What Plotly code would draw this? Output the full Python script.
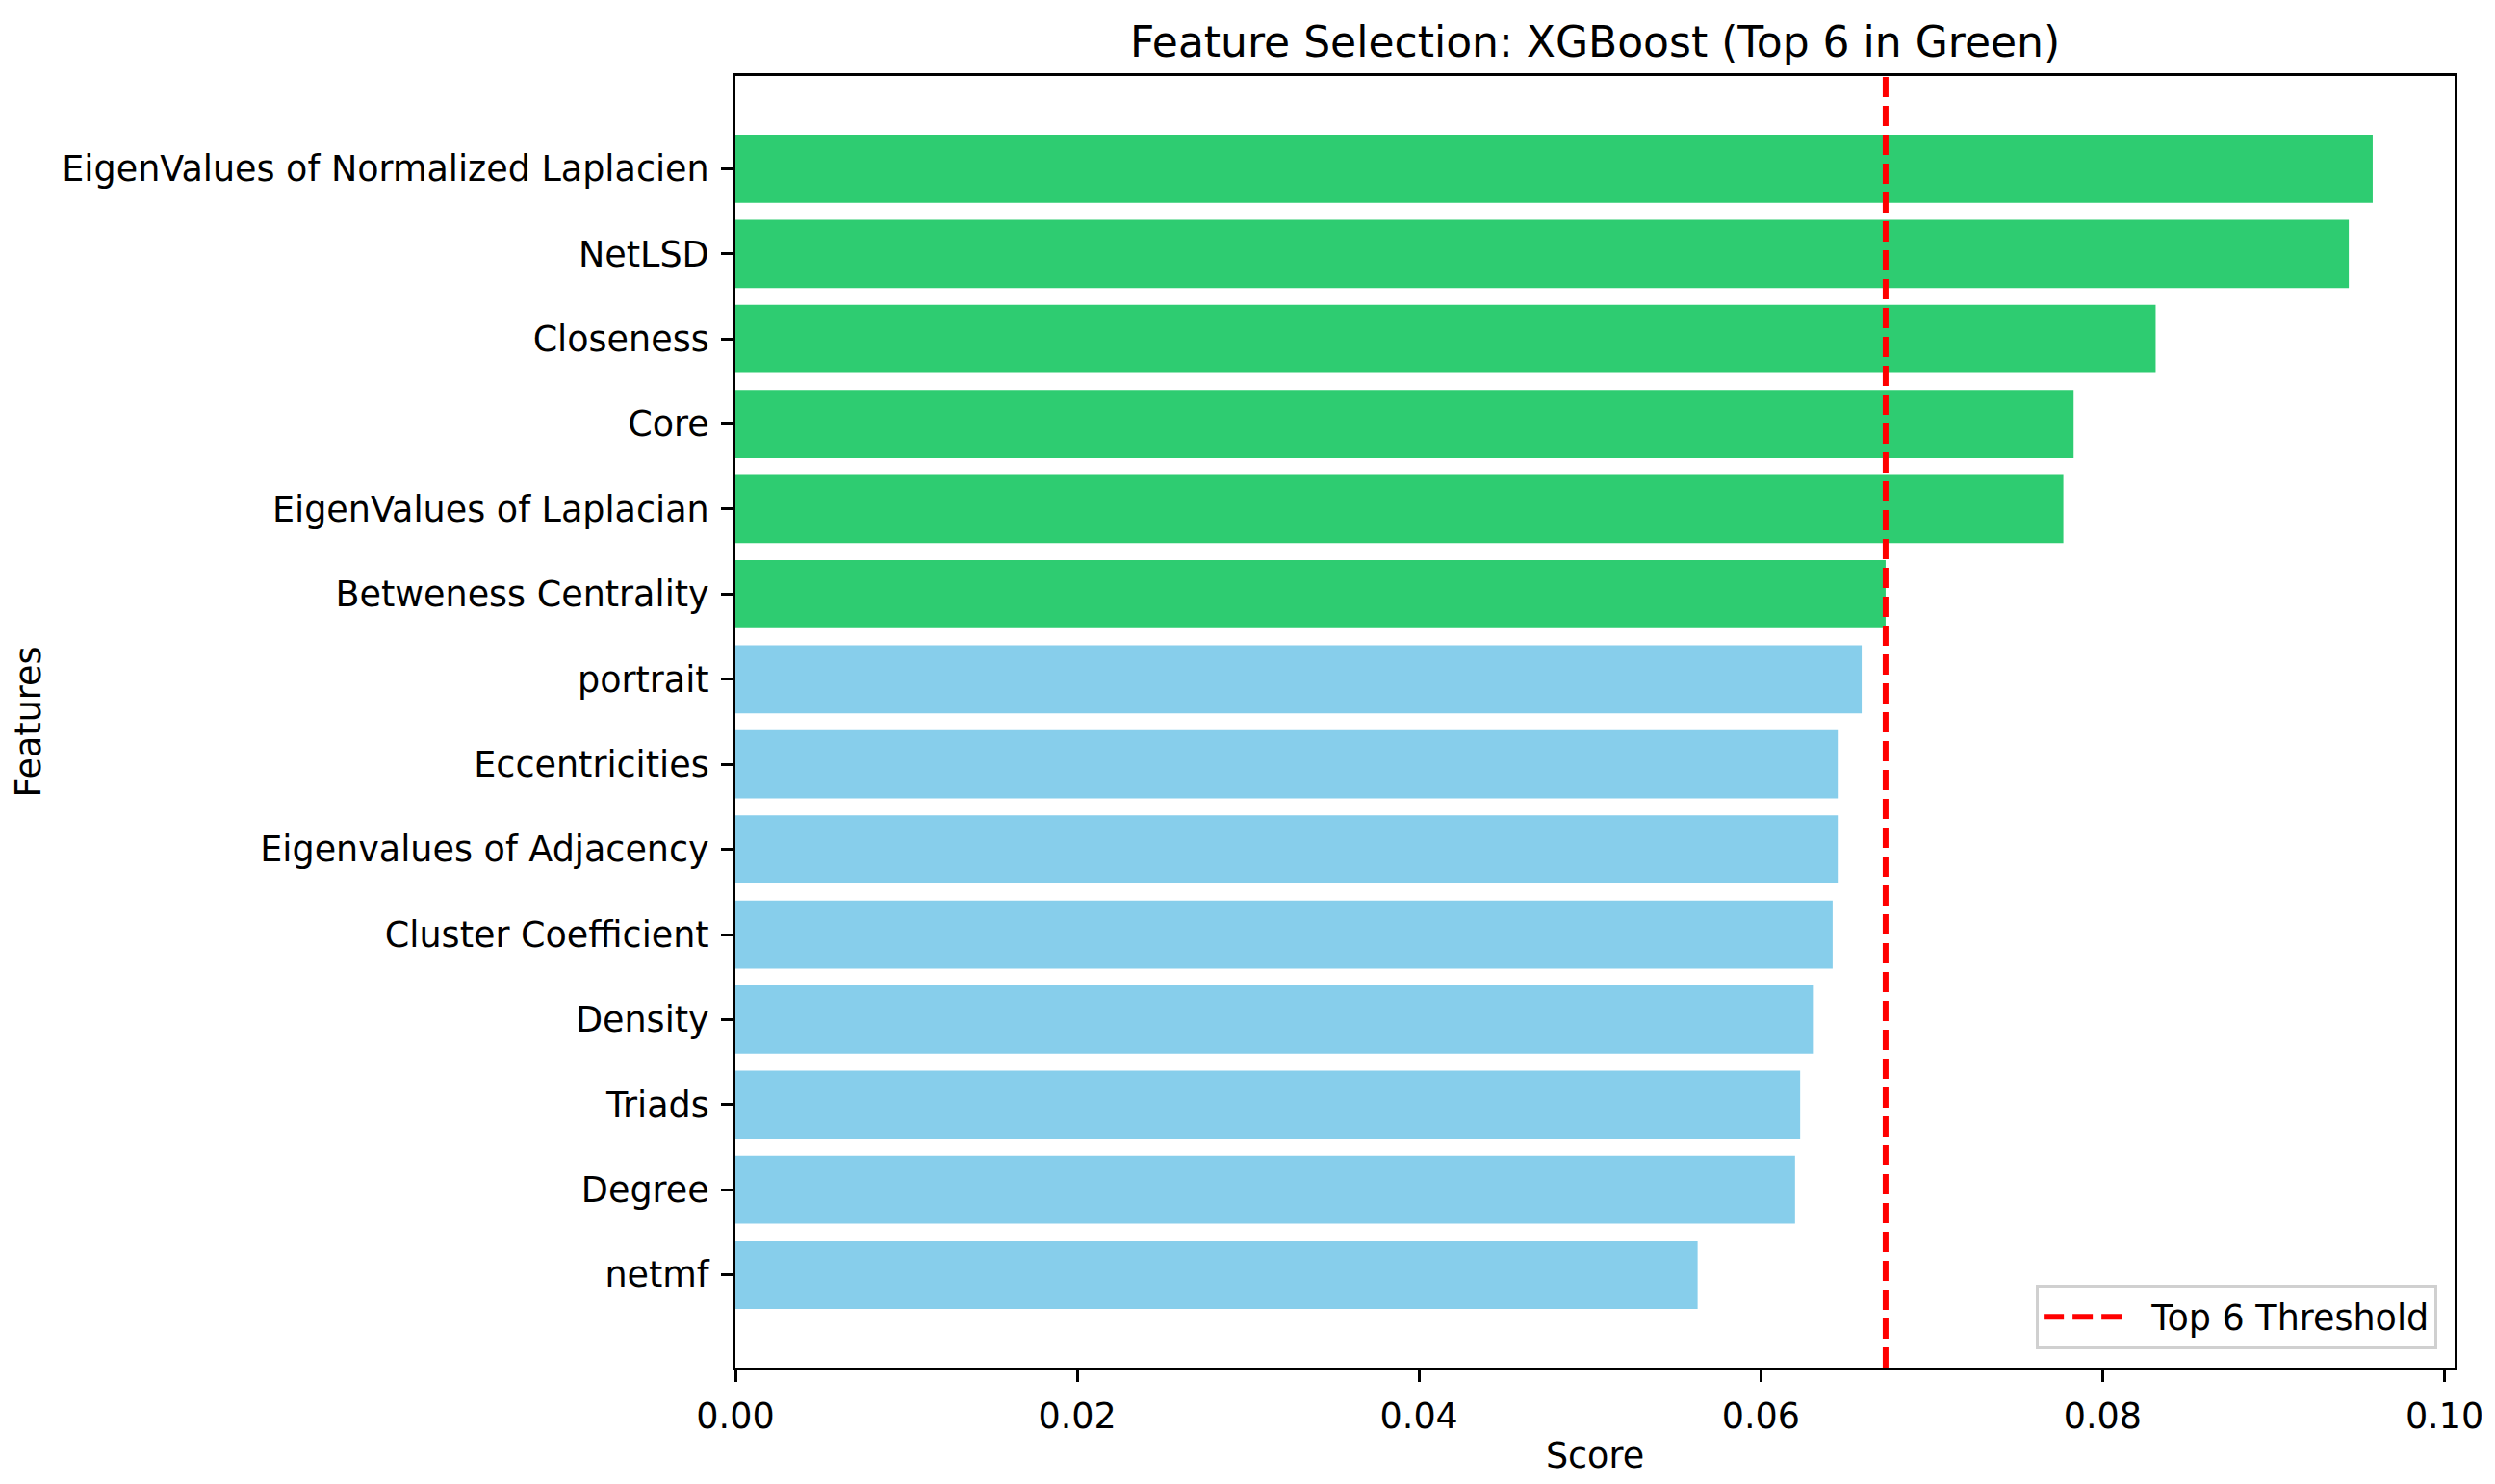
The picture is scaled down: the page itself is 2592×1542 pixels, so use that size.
import plotly.graph_objects as go

# scores, listed top to bottom
features = [
    "EigenValues of Normalized Laplacien",
    "NetLSD",
    "Closeness",
    "Core",
    "EigenValues of Laplacian",
    "Betweness Centrality",
    "portrait",
    "Eccentricities",
    "Eigenvalues of Adjacency",
    "Cluster Coefficient",
    "Density",
    "Triads",
    "Degree",
    "netmf",
]
scores = [0.0958, 0.0944, 0.0831, 0.0783, 0.0777, 0.0673, 0.0659,
          0.0645, 0.0645, 0.0642, 0.0631, 0.0623, 0.0620, 0.0563]
x_ticks = [0.00, 0.02, 0.04, 0.06, 0.08, 0.10]

TOP_N = 6
GREEN = "#2ecc71"
BLUE = "#87ceeb"
FONT = "DejaVu Sans"
FS = 36.5

colors = [GREEN if i < TOP_N else BLUE for i in range(len(features))]
threshold = scores[TOP_N - 1]

fig = go.Figure()
fig.add_trace(go.Bar(
    x=scores, y=features, orientation="h",
    marker=dict(color=colors, line=dict(width=0)),
    showlegend=False,
))
# dashed threshold line across the whole axis height
fig.add_trace(go.Scatter(
    x=[threshold, threshold], y=[0, 1], yaxis="y2",
    mode="lines", name="\u00a0\u00a0Top 6 Threshold",
    line=dict(color="red", width=6, dash="21px,9px"),
))

n = len(features)
pad = (n - 0.2) * 0.05 + 0.4
# page body has an 8px margin, so the figure is 8px smaller than the window
fig.update_layout(
    width=2584, height=1534,
    margin=dict(l=756, r=35, t=71, b=121),
    paper_bgcolor="white", plot_bgcolor="white",
    font=dict(family=FONT, size=FS, color="black"),
    bargap=0.2,
    title=dict(
        text="Feature Selection: XGBoost (Top 6 in Green)",
        font=dict(size=44, color="black"),
        x=0.5, xref="paper", xanchor="center",
        y=1, yref="paper", yanchor="bottom", pad=dict(b=20),
    ),
    xaxis=dict(
        range=[0, scores[0] * 1.05],
        tickvals=x_ticks, ticktext=[f"{v:.2f}" for v in x_ticks],
        ticks="outside", ticklen=12, tickwidth=3, tickcolor="black",
        ticklabelstandoff=4,
        showline=True, linecolor="black", linewidth=3, mirror=True,
        showgrid=False, zeroline=False,
        title=dict(text="Score", standoff=8, font=dict(size=FS)),
    ),
    yaxis=dict(
        type="category", categoryorder="array", categoryarray=features,
        range=[n - 1 + pad, -pad],
        ticks="outside", ticklen=12, tickwidth=3, tickcolor="black",
        ticklabelstandoff=5,
        showline=True, linecolor="black", linewidth=3, mirror=True,
        showgrid=False, zeroline=False,
        title=dict(text="Features", standoff=14, font=dict(size=FS)),
    ),
    yaxis2=dict(overlaying="y", range=[0, 1], visible=False),
    legend=dict(
        x=0.99, y=0.0142, xanchor="right", yanchor="bottom",
        bgcolor="rgba(255,255,255,0.8)", bordercolor="#d0d0d0", borderwidth=3,
        font=dict(size=FS), itemwidth=84,
    ),
)

fig.write_html("out.html")
